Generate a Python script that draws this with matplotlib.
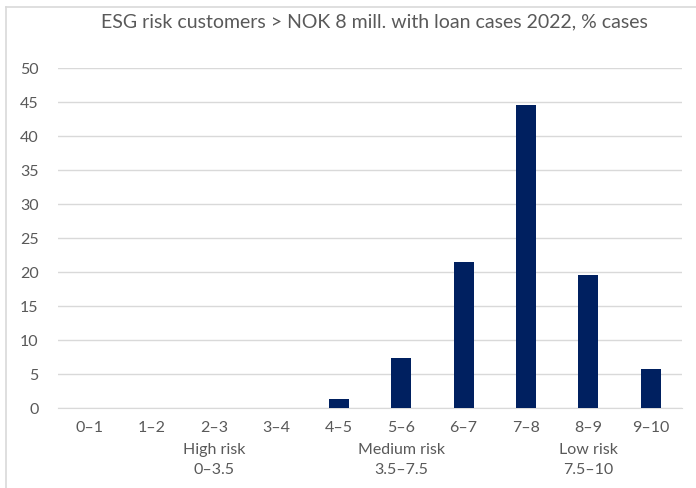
import matplotlib
matplotlib.use("Agg")
import matplotlib.pyplot as plt
from matplotlib.lines import Line2D

categories = ["0–1", "1–2", "2–3", "3–4", "4–5", "5–6", "6–7", "7–8", "8–9", "9–10"]
values = [0, 0, 0, 0, 1.3, 7.4, 21.4, 44.5, 19.5, 5.8]
group_labels = ["High risk\n0–3.5", "Medium risk\n3.5–7.5", "Low risk\n7.5–10"]
group_pos = [2, 5, 8]
title = "ESG risk customers > NOK 8 mill. with loan cases 2022, % cases"

plt.rcParams['font.family'] = ['Lato', 'DejaVu Sans']
textcol = '#595959'
barcol = '#002060'

fig = plt.figure(figsize=(6.96, 4.88), dpi=100)
ax = fig.add_axes([58/696, 1-408/488, 624/696, 340/488])

x = range(len(categories))
ax.bar(x, values, width=0.32, color=barcol, zorder=3)
ax.set_xlim(-0.5, len(categories)-0.5)
ax.set_ylim(0, 50)
ax.set_yticks(range(0, 51, 5))
ax.set_xticks(list(x))
ax.set_xticklabels(categories)
ax.grid(axis='y', color='#d9d9d9', linewidth=1, zorder=0)
ax.tick_params(axis='both', length=0, labelsize=11.5, labelcolor=textcol)
ax.tick_params(axis='y', pad=14)
ax.tick_params(axis='x', pad=9)
for s in ['top', 'right', 'left']:
    ax.spines[s].set_visible(False)
ax.spines['bottom'].set_color('#d9d9d9')

for p, lab in zip(group_pos, group_labels):
    ax.text(p, -0.103, lab, transform=ax.get_xaxis_transform(), ha='center', va='top',
            fontsize=11.5, color=textcol, linespacing=1.5)

fig.text(374/696, 1-22/488, title, ha='center', va='center', fontsize=14, color=textcol)

# chart border
fig.add_artist(Line2D([6/696, 6/696], [0, 1-7/488], color='#d9d9d9', linewidth=1.2))
fig.add_artist(Line2D([6/696, 1], [1-7/488, 1-7/488], color='#d9d9d9', linewidth=1.2))

fig.savefig("out.png", dpi=100)
